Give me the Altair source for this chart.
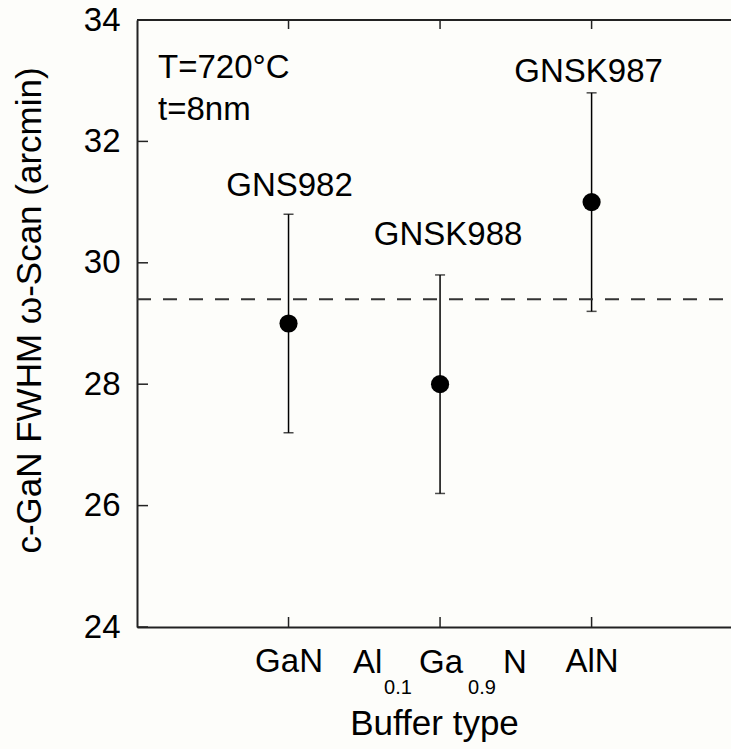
import altair as alt
import pandas as pd

# Samples grown at T=720°C, t=8nm on three buffer types
positions = [1, 2, 3]
buffer_names = ["GaN", "Al0.1Ga0.9N", "AlN"]
samples = ["GNS982", "GNSK988", "GNSK987"]
fwhm = [29.0, 28.0, 31.0]
fwhm_err = [1.8, 1.8, 1.8]
mean_fwhm = 29.4
y_ticks = [24, 26, 28, 30, 32, 34]
conditions = ["T=720°C", "t=8nm"]

W, H = 594, 607
FONT = "Liberation Sans"
FS = 33
TFS = 35
INK = "#222222"

df = pd.DataFrame({
    "pos": positions,
    "buffer": buffer_names,
    "sample": samples,
    "fwhm": fwhm,
    "lo": [v - e for v, e in zip(fwhm, fwhm_err)],
    "hi": [v + e for v, e in zip(fwhm, fwhm_err)],
})

xscale = alt.Scale(domain=[0, 3.92], nice=False, zero=False)
yscale = alt.Scale(domain=[24, 34], nice=False, zero=False)

label_expr = (
    "datum.value == 1 ? '" + buffer_names[0] + "' : "
    "datum.value == 3 ? '" + buffer_names[2] + "' : ''"
)

X_AXIS = alt.Axis(
    values=positions, labelExpr=label_expr, ticks=False, grid=False,
    title="Buffer type", labelFontSize=FS, titleFontSize=TFS,
    labelFont=FONT, titleFont=FONT, labelColor="black", titleColor="black",
    labelPadding=18, titlePadding=28, titleFontWeight="normal",
    domainColor=INK, domainWidth=2)
Y_AXIS = alt.Axis(
    values=y_ticks, ticks=False, grid=False,
    title="c-GaN FWHM ω-Scan (arcmin)", labelFontSize=FS, titleFontSize=TFS,
    labelFont=FONT, titleFont=FONT, labelColor="black", titleColor="black",
    labelPadding=17, titlePadding=36, titleY=290, titleFontWeight="normal",
    domainColor=INK, domainWidth=2)


def xq(field):
    return alt.X(field, scale=xscale, axis=X_AXIS)


def yq(field):
    return alt.Y(field, scale=yscale, axis=Y_AXIS)


base = alt.Chart(df)

# error bars
bars = base.mark_rule(color="black", strokeWidth=1.5).encode(
    x=xq("pos:Q"), y=yq("lo:Q"), y2="hi:Q")

cap_lo = base.mark_tick(orient="horizontal", color="black", thickness=1.5, size=10).encode(
    x=xq("pos:Q"), y=yq("lo:Q"))
cap_hi = base.mark_tick(orient="horizontal", color="black", thickness=1.5, size=10).encode(
    x=xq("pos:Q"), y=yq("hi:Q"))

points = base.mark_circle(color="black", opacity=1, size=330).encode(
    x=xq("pos:Q"), y=yq("fwhm:Q"))

mean_line = alt.Chart(pd.DataFrame({"m": [mean_fwhm]})).mark_rule(
    color="#333333", strokeWidth=2, strokeDash=[14, 12]).encode(
    y=yq("m:Q"), x=alt.value(0), x2=alt.value(W))

# frame: top border
top_border = alt.Chart(pd.DataFrame({"t": [34]})).mark_rule(
    color=INK, strokeWidth=2).encode(
    y=yq("t:Q"), x=alt.value(0), x2=alt.value(W))

# inward ticks
ytick_df = pd.DataFrame({"v": y_ticks})
left_ticks = alt.Chart(ytick_df).mark_rule(color=INK, strokeWidth=1.5).encode(
    y=yq("v:Q"), x=alt.value(0), x2=alt.value(11))
xtick_df = pd.DataFrame({"p": positions})
bottom_ticks = alt.Chart(xtick_df).mark_rule(color=INK, strokeWidth=1.5).encode(
    x=xq("p:Q"), y=alt.value(H), y2=alt.value(H - 10))
top_ticks = alt.Chart(xtick_df).mark_rule(color=INK, strokeWidth=1.5).encode(
    x=xq("p:Q"), y=alt.value(0), y2=alt.value(9))

# sample annotations above each error bar
ann_dy = [-18, -30, -11]
ann_dx = [1, 8, -3]
annotations = []
for i in range(len(samples)):
    annotations.append(
        alt.Chart(df.iloc[[i]]).mark_text(
            font=FONT, fontSize=FS, color="black", baseline="alphabetic",
            align="center", dy=ann_dy[i], dx=ann_dx[i]).encode(
            x=xq("pos:Q"), y=yq("hi:Q"), text="sample:N"))

# growth conditions, one line each
cond_layers = []
for i, txt in enumerate(conditions):
    cond_layers.append(
        alt.Chart(pd.DataFrame({"txt": [txt]})).mark_text(
            font=FONT, fontSize=FS, color="black", align="left",
            baseline="alphabetic").encode(
            x=alt.value(21), y=alt.value(58 + 42 * i), text="txt:N"))

# middle tick label with subscripts: Al(0.1)Ga(0.9)N
mid_parts = [("Al", -87, False), ("0.1", -56, True), ("Ga", -21, False),
             ("0.9", 28, True), ("N", 63, False)]
mid_layers = []
for txt, dx, sub in mid_parts:
    mid_layers.append(
        alt.Chart(pd.DataFrame({"p": [positions[1]], "txt": [txt]})).mark_text(
            font=FONT, fontSize=20 if sub else FS, color="black", align="left",
            baseline="alphabetic", dx=dx).encode(
            x=xq("p:Q"), y=alt.value(H + (67 if sub else 46)), text="txt:N"))

chart = alt.layer(
    bars, mean_line, top_border, left_ticks, bottom_ticks, top_ticks,
    cap_lo, cap_hi, points, *cond_layers, *annotations, *mid_layers
).properties(
    width=W, height=H,
    padding={"left": 137, "top": 20, "right": 0, "bottom": 122},
    autosize=alt.AutoSizeParams(type="none"),
    background="#fdfdfa",
).configure_view(stroke=None)

chart.save("out.html", embed_options={"renderer": "svg", "actions": False})
